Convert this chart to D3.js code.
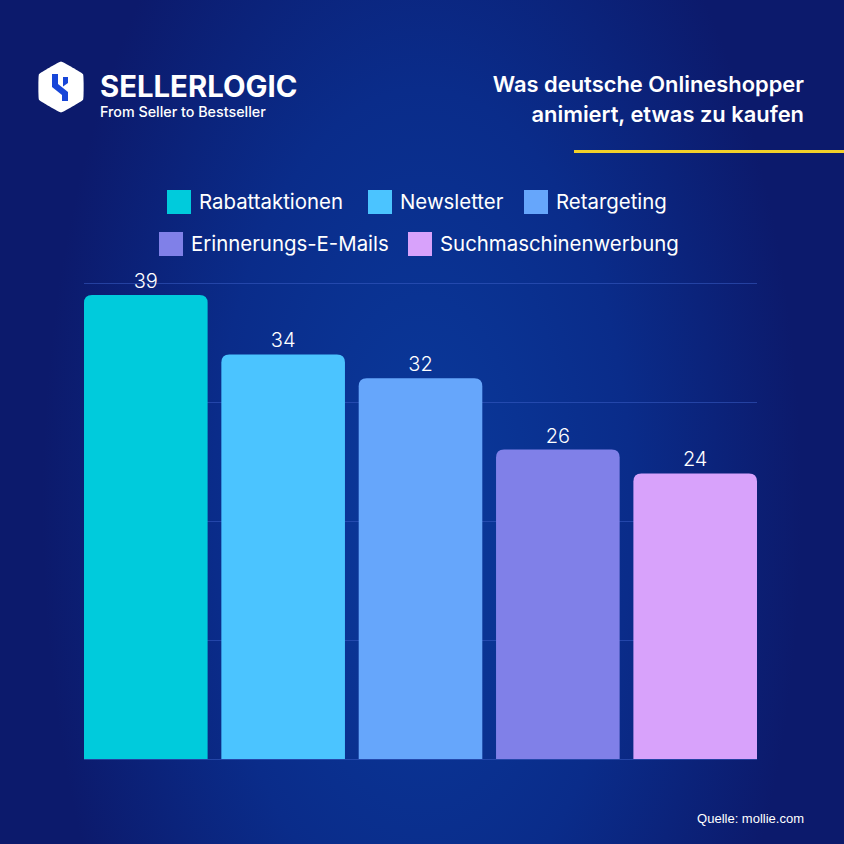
<!DOCTYPE html>
<html>
<head>
<meta charset="utf-8">
<script src="https://cdn.jsdelivr.net/npm/d3@7"></script>
<style>
  html, body { margin: 0; padding: 0; background: #0b1f78; }
  svg { display: block; }
</style>
</head>
<body>
<svg id="chart" width="844" height="844"></svg>
<script>
var categories = ['Rabattaktionen', 'Newsletter', 'Retargeting', 'Erinnerungs-E-Mails', 'Suchmaschinenwerbung'];
var values = [39, 34, 32, 26, 24];
var colors = ['#00cbdc', '#4bc4ff', '#66a6fb', '#8080e8', '#d8a2fb'];
var gridTicks = [10, 20, 30, 40];
var titleLines = ['Was deutsche Onlineshopper', 'animiert, etwas zu kaufen'];

var W = 844, H = 844;
var svg = d3.select('#chart');
var defs = svg.append('defs');

// background
var bg = defs.append('radialGradient').attr('id', 'bg')
    .attr('cx', '50%').attr('cy', '60%').attr('r', '75%')
    .attr('gradientTransform', 'translate(0.5,0.6) scale(0.6,1.2) translate(-0.5,-0.6)');
bg.append('stop').attr('offset', '0%').attr('stop-color', '#0a3a9c');
bg.append('stop').attr('offset', '55%').attr('stop-color', '#0a2c8a');
bg.append('stop').attr('offset', '100%').attr('stop-color', '#0c1a6c');
svg.append('rect').attr('width', W).attr('height', H).attr('fill', 'url(#bg)');

// logo
var logo = svg.append('g').attr('transform', 'translate(61,87)');
var hex = d3.range(6).map(function(i) {
    var a = Math.PI / 3 * i - Math.PI / 2;
    return [Math.cos(a) * 25.5, Math.sin(a) * 25.5];
});
logo.append('path')
    .attr('d', d3.line().curve(d3.curveCardinalClosed.tension(0.8))(hex))
    .attr('fill', '#ffffff');
logo.append('path')
    .attr('d', 'M-9,-13 L-3,-13 L-3,-3 L7,5 L7,14 L1,14 L1,8 L-9,0 Z')
    .attr('fill', '#1746d8');
logo.append('path')
    .attr('d', 'M2,-10 L7,-10 L7,-4 L2,-0.5 Z')
    .attr('fill', '#1746d8');

svg.append('text').attr('x', 100).attr('y', 97)
    .attr('font-family', 'Inter, sans-serif').attr('font-weight', 700)
    .attr('font-size', 29.3).attr('fill', '#ffffff').text('SELLERLOGIC');
svg.append('text').attr('x', 100).attr('y', 117)
    .attr('font-family', 'Inter, sans-serif').attr('font-weight', 500)
    .attr('font-size', 14.3).attr('fill', '#ffffff').text('From Seller to Bestseller');

// title
svg.append('g').selectAll('text').data(titleLines).join('text')
    .attr('x', 804).attr('y', function(d, i) { return 92 + i * 30; })
    .attr('text-anchor', 'end')
    .attr('font-family', 'Inter, sans-serif').attr('font-weight', 600)
    .attr('font-size', 21.9).attr('fill', '#ffffff')
    .text(function(d) { return d; });

svg.append('rect').attr('x', 574).attr('y', 150).attr('width', 270).attr('height', 3)
    .attr('fill', '#f2d02a');

// legend
var legendPos = [[167, 190], [368, 190], [524, 190], [159, 232], [408, 232]];
var legend = svg.append('g').selectAll('g').data(categories).join('g')
    .attr('transform', function(d, i) { return 'translate(' + legendPos[i][0] + ',' + legendPos[i][1] + ')'; });
legend.append('rect').attr('width', 24).attr('height', 24)
    .attr('fill', function(d, i) { return colors[i]; });
legend.append('text').attr('x', 32).attr('y', 18.5)
    .attr('font-family', 'Inter, sans-serif').attr('font-weight', 400)
    .attr('font-size', 20.4).attr('fill', '#ffffff')
    .text(function(d) { return d; });

// chart
var x = d3.scaleBand().domain(categories).range([84, 757]).paddingInner(0.1).paddingOuter(0);
var y = d3.scaleLinear().domain([0, 40]).range([759, 283]);

svg.append('g').selectAll('line').data([0].concat(gridTicks)).join('line')
    .attr('x1', 84).attr('x2', 757)
    .attr('y1', function(d) { return y(d) + 0.5; }).attr('y2', function(d) { return y(d) + 0.5; })
    .attr('stroke', '#3b5cc4').attr('stroke-opacity', 0.55).attr('stroke-width', 1);

function topRounded(x0, y0, w, h, r) {
    return 'M' + x0 + ',' + (y0 + h) +
        'V' + (y0 + r) +
        'Q' + x0 + ',' + y0 + ' ' + (x0 + r) + ',' + y0 +
        'H' + (x0 + w - r) +
        'Q' + (x0 + w) + ',' + y0 + ' ' + (x0 + w) + ',' + (y0 + r) +
        'V' + (y0 + h) + 'Z';
}

svg.append('g').selectAll('path').data(values).join('path')
    .attr('d', function(d, i) {
        return topRounded(x(categories[i]), y(d), x.bandwidth(), y(0) - y(d), 8);
    })
    .attr('fill', function(d, i) { return colors[i]; });

svg.append('g').selectAll('text').data(values).join('text')
    .attr('x', function(d, i) { return x(categories[i]) + x.bandwidth() / 2; })
    .attr('y', function(d) { return y(d) - 7; })
    .attr('text-anchor', 'middle')
    .attr('font-family', 'Inter, sans-serif').attr('font-weight', 300)
    .attr('font-size', 20).attr('fill', '#ffffff')
    .text(function(d) { return d; });

svg.append('text').attr('x', 804).attr('y', 823).attr('text-anchor', 'end')
    .attr('font-family', 'Liberation Sans, Arial, sans-serif')
    .attr('font-size', 13).attr('fill', '#ffffff').text('Quelle: mollie.com');
</script>
</body>
</html>
